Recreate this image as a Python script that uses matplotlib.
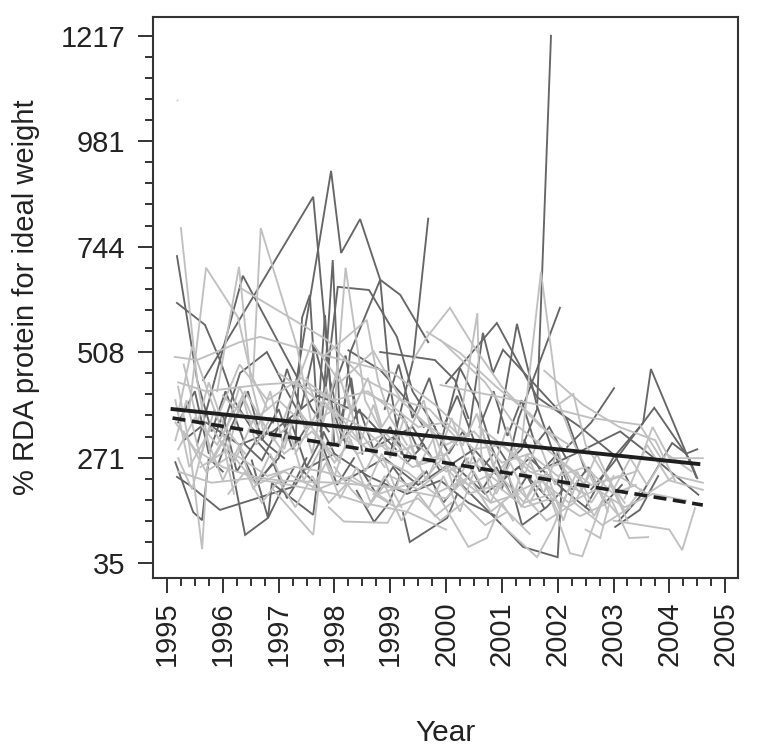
import matplotlib
matplotlib.use('Agg')
import matplotlib.pyplot as plt
from matplotlib.ticker import FixedLocator

plt.rcParams['font.family'] = ['Liberation Sans', 'DejaVu Sans']

# each series: (years, % RDA values)
dark_lines = [
    ([1995.18, 1995.54, 1995.8, 1996.05, 1996.4, 1996.7, 1997.0], [723, 445, 330, 420, 300, 265, 340]),
    ([1995.18, 1995.68, 1995.95, 1996.2, 1996.5, 1996.8, 1997.1], [618, 569, 490, 400, 340, 300, 270]),
    ([1995.54, 1996.36, 1997.33, 1997.6, 1997.9], [300, 679, 452, 380, 330]),
    ([1995.65, 1997.62, 1997.92, 1998.2], [445, 856, 445, 300]),
    ([1997.1, 1997.33, 1997.94, 1998.12, 1998.46, 1998.82, 1999.18, 1999.68], [330, 452, 914, 730, 806, 670, 636, 530]),
    ([1997.75, 1997.97, 1998.1, 1998.3, 1998.5], [300, 714, 350, 450, 280]),
    ([1997.75, 1998.06, 1998.62, 1999.12, 1999.4, 1999.8], [330, 654, 647, 542, 420, 340]),
    ([1999.0, 1999.41, 1999.68], [280, 490, 807]),
    ([2000.9, 2001.1, 2001.35, 2001.63, 2001.88], [300, 260, 290, 380, 1217]),
    ([2001.0, 2001.3, 2002.04], [200, 360, 607]),
    ([1999.9, 2000.25, 2000.57, 2000.8, 2001.0], [300, 472, 394, 300, 240]),
    ([2000.4, 2000.66, 2000.84, 2001.02, 2002.17, 2002.5], [320, 551, 461, 513, 356, 240]),
    ([2000.0, 2000.91, 2001.63, 2002.4, 2003.03, 2003.3], [438, 573, 407, 340, 275, 210]),
    ([2000.93, 2001.27, 2001.63, 2001.9, 2002.2], [327, 571, 387, 290, 210]),
    ([2002.17, 2002.6, 2003.01], [295, 350, 427]),
    ([2001.8, 2002.4, 2003.12, 2003.7, 2004.52], [250, 285, 330, 273, 188]),
    ([2002.5, 2002.99, 2003.53, 2003.67, 2004.48], [160, 270, 349, 470, 228]),
    ([2002.6, 2003.0, 2003.73, 2004.37, 2004.5], [200, 260, 383, 266, 225]),
    ([2003.1, 2003.47, 2004.05, 2004.3, 2004.5], [130, 183, 304, 280, 290]),
    ([2003.03, 2003.47, 2003.8], [116, 154, 230]),
    ([2000.2, 2000.79, 2001.38, 2002.0, 2002.08], [220, 147, 71, 48, 228]),
    ([2001.1, 2001.36, 2001.8, 2002.1], [240, 120, 160, 200]),
    ([1995.15, 1995.47, 1995.63, 1995.75, 1996.0], [261, 149, 131, 270, 240]),
    ([1995.18, 1995.4, 1995.95, 1997.24, 1997.5], [228, 210, 154, 205, 270]),
    ([1996.1, 1996.4, 1996.81, 1997.1, 1997.28], [290, 98, 136, 210, 250]),
    ([1996.52, 1996.81, 1996.88, 1997.62, 1997.8, 1998.0], [265, 136, 214, 143, 330, 280]),
    ([1998.4, 1998.71, 1998.98, 1999.2], [197, 127, 170, 240]),
    ([1999.23, 1999.35, 2000.02, 2000.2], [147, 82, 136, 190]),
    ([1997.3, 1997.42, 1997.56, 1997.7, 1997.83, 1998.0], [300, 585, 636, 350, 591, 300]),
    ([1998.1, 1998.28, 1998.82, 1999.0, 1999.2], [300, 506, 670, 430, 280]),
    ([1998.25, 1998.82, 1999.3, 1999.6], [512, 468, 400, 340]),
    ([1998.82, 1999.8, 2000.16, 2000.4], [508, 490, 445, 360]),
    ([1995.95, 1996.31, 1996.79, 1997.15, 1997.5], [320, 461, 508, 420, 340]),
    ([1995.3, 1995.7, 1996.3, 1996.9, 1997.7, 1998.5, 1999.1], [310, 350, 300, 330, 410, 370, 290]),
    ([1998.2, 1998.9, 1999.5, 2000.1, 2000.7, 2001.3, 2001.9], [220, 270, 210, 260, 190, 250, 170]),
    ([1998.8, 1999.4, 1999.9, 2000.5, 2001.0, 2001.5, 2002.1, 2002.6], [300, 340, 240, 290, 220, 270, 200, 150]),
    ([1997.4, 1998.0, 1998.6, 1999.3, 1999.9, 2000.4, 2000.9], [240, 280, 230, 190, 220, 170, 140]),
    ([1995.2, 1995.5, 1995.75, 1996.0, 1996.25, 1996.6, 1996.95], [350, 420, 280, 370, 240, 310, 260]),
    ([1995.9, 1996.15, 1996.45, 1996.7, 1997.0, 1997.25, 1997.55], [250, 340, 420, 310, 380, 290, 350]),
    ([1996.7, 1997.0, 1997.2, 1997.5, 1997.75, 1998.05, 1998.35], [230, 270, 360, 250, 310, 210, 270]),
    ([1997.9, 1998.15, 1998.45, 1998.7, 1999.0, 1999.3, 1999.6], [410, 310, 380, 290, 340, 260, 300]),
    ([1999.2, 1999.5, 1999.75, 2000.05, 2000.3, 2000.6, 2000.85], [370, 290, 350, 280, 330, 240, 280]),
    ([2000.1, 2000.35, 2000.65, 2000.9, 2001.2, 2001.45, 2001.75], [210, 270, 200, 250, 180, 230, 160]),
    ([2001.4, 2001.7, 2002.0, 2002.25, 2002.55, 2002.85, 2003.15], [310, 240, 280, 200, 250, 170, 210]),
    ([1996.3, 1996.6, 1996.9, 1997.15, 1997.45, 1997.75], [290, 210, 260, 180, 240, 200]),
    ([1998.5, 1998.75, 1999.05, 1999.35, 1999.65, 1999.95, 2000.2], [240, 190, 250, 200, 240, 170, 210]),
    ([1996.9, 1997.15, 1997.4, 1997.65, 1997.9, 1998.2, 1998.4], [350, 470, 380, 520, 400, 500, 360]),
    ([1998.9, 1999.15, 1999.4, 1999.7, 1999.95, 2000.2, 2000.5], [380, 480, 360, 450, 340, 410, 310]),
    ([2000.6, 2000.85, 2001.1, 2001.35, 2001.6, 2001.85, 2002.15], [340, 420, 320, 400, 300, 340, 270]),
]

light_lines = [
    ([1995.25, 1995.54, 1995.8, 1996.1, 1996.4], [786, 445, 260, 330, 280]),
    ([1995.4, 1995.7, 1996.27, 1996.5, 1996.8], [380, 697, 586, 460, 380]),
    ([1995.9, 1996.29, 1996.5, 1996.75], [420, 699, 445, 320]),
    ([1996.54, 1996.68, 1997.33, 1997.6], [445, 786, 520, 340]),
    ([1996.31, 1997.87, 1998.5, 1999.1, 1999.7, 2000.2], [652, 535, 450, 410, 340, 300]),
    ([1995.14, 1995.54, 1996.3, 1996.67, 1997.69, 1999.05, 1999.8, 2000.4], [497, 490, 530, 542, 505, 461, 390, 320]),
    ([1995.2, 1995.7, 1996.7, 1997.3, 1998.0, 1998.6, 1999.3], [440, 420, 435, 440, 400, 420, 350]),
    ([1997.95, 1998.2, 1998.55, 1998.8, 1999.2], [300, 697, 400, 340, 290]),
    ([1997.8, 1998.58, 1998.78, 1999.0, 1999.3], [497, 580, 445, 360, 300]),
    ([1995.2, 1995.4, 1995.63, 1995.72, 1996.0, 1996.2], [430, 300, 66, 250, 310, 190]),
    ([1996.9, 1997.62, 1997.8, 1998.0, 1998.3], [200, 98, 300, 260, 310]),
    ([1997.9, 1998.17, 1998.95, 1999.3, 1999.6], [160, 128, 125, 200, 240]),
    ([1999.41, 1999.66, 2000.07, 2000.25, 2000.5, 2001.0, 2001.7, 2002.2], [490, 542, 607, 570, 520, 430, 340, 300]),
    ([1999.66, 2000.25, 2000.9, 2001.5, 2002.1], [553, 506, 430, 370, 290]),
    ([1999.6, 2000.2, 2000.56, 2000.63, 2000.8, 2001.1], [220, 310, 595, 280, 190, 150]),
    ([1999.9, 2000.7, 2001.2, 2001.7, 2002.0, 2002.5], [535, 440, 350, 300, 270, 210]),
    ([1999.9, 2001.68, 2002.6, 2003.47, 2003.9], [434, 389, 360, 345, 260]),
    ([2001.76, 2002.45, 2003.1, 2003.75, 2004.1], [466, 390, 340, 310, 220]),
    ([2001.0, 2001.35, 2001.7, 2002.0, 2002.3, 2002.7, 2003.1], [250, 300, 688, 400, 300, 200, 140]),
    ([2001.9, 2002.28, 2002.5, 2002.8, 2003.2], [380, 414, 300, 240, 170]),
    ([1999.8, 2000.4, 2000.73, 2001.0, 2001.2], [200, 71, 91, 170, 130]),
    ([2001.0, 2001.63, 2001.9, 2002.2], [120, 48, 110, 200]),
    ([2001.9, 2002.22, 2002.44, 2002.76, 2003.0], [170, 57, 50, 160, 230]),
    ([2002.5, 2002.76, 2002.95, 2003.28, 2003.62], [110, 91, 180, 91, 93]),
    ([2003.0, 2003.5, 2004.0, 2004.23, 2004.46], [130, 120, 110, 64, 158]),
    ([2003.2, 2003.6, 2004.0, 2004.6], [180, 300, 220, 199]),
    ([2002.9, 2003.4, 2003.7, 2004.0, 2004.6], [220, 240, 340, 270, 270]),
    ([1995.15, 1995.5, 1996.0, 1996.5, 1997.0, 1998.0, 1999.0, 2000.0], [350, 290, 250, 230, 220, 215, 205, 180]),
    ([1995.2, 1995.8, 1996.5, 1997.2, 1998.0, 1998.5, 1999.3, 2000.0], [240, 215, 225, 210, 190, 170, 150, 110]),
    ([1995.15, 1995.4, 1995.8, 1996.2, 1996.6, 1997.1, 1997.6, 1998.1], [400, 250, 340, 260, 370, 280, 330, 260]),
    ([1995.2, 1995.5, 1995.9, 1996.4, 1996.9, 1997.4, 1997.9, 1998.4, 1998.9], [290, 360, 300, 420, 310, 370, 290, 340, 250]),
    ([1995.3, 1995.7, 1996.2, 1996.8, 1997.3, 1997.8, 1998.3, 1998.8, 1999.4], [330, 240, 280, 230, 250, 240, 220, 190, 215]),
    ([1996.0, 1996.5, 1997.0, 1997.5, 1998.0, 1998.5, 1999.0, 1999.5, 2000.0], [410, 350, 400, 340, 380, 300, 330, 260, 280]),
    ([1997.0, 1997.5, 1998.0, 1998.5, 1999.0, 1999.5, 2000.0, 2000.5, 2001.0], [460, 420, 370, 340, 280, 300, 240, 260, 210]),
    ([1997.3, 1997.8, 1998.3, 1998.8, 1999.3, 1999.8, 2000.3, 2000.8, 2001.3], [280, 400, 320, 270, 240, 190, 220, 170, 190]),
    ([1998.0, 1998.4, 1998.9, 1999.4, 1999.9, 2000.4, 2000.9, 2001.4, 2001.9], [350, 280, 300, 250, 270, 210, 240, 170, 190]),
    ([1998.5, 1999.0, 1999.5, 2000.0, 2000.5, 2001.0, 2001.5, 2002.0, 2002.5], [420, 390, 340, 350, 290, 300, 240, 220, 190]),
    ([1999.0, 1999.5, 2000.0, 2000.4, 2000.9, 2001.4, 2001.9, 2002.4, 2002.9], [230, 200, 250, 190, 210, 160, 180, 140, 170]),
    ([1999.5, 2000.0, 2000.5, 2001.0, 2001.5, 2002.0, 2002.5, 2003.0, 2003.4], [360, 300, 330, 260, 280, 230, 250, 190, 210]),
    ([2000.0, 2000.4, 2000.8, 2001.3, 2001.8, 2002.3, 2002.8, 2003.3], [180, 230, 150, 200, 130, 170, 120, 160]),
    ([2000.6, 2001.1, 2001.6, 2002.1, 2002.6, 2003.1, 2003.6, 2004.1, 2004.6], [340, 290, 240, 260, 210, 230, 190, 230, 215]),
    ([2001.2, 2001.7, 2002.2, 2002.7, 2003.2, 2003.7, 2004.3], [190, 220, 170, 200, 160, 190, 175]),
    ([1995.2, 1995.45, 1995.9, 1996.3, 1996.8, 1997.4, 1998.2], [370, 520, 360, 480, 400, 450, 380]),
    ([1997.1, 1997.6, 1998.1, 1998.7, 1999.2, 1999.7, 2000.3], [360, 530, 440, 510, 400, 380, 300]),
    ([1995.6, 1996.1, 1996.6, 1997.1, 1997.7, 1998.3, 1999.0], [250, 290, 210, 240, 200, 230, 170]),
    ([1998.7, 1999.1, 1999.5, 1999.9, 2000.3, 2000.7, 2001.1, 2001.5], [190, 160, 180, 130, 170, 120, 150, 100]),
    ([1995.15, 1995.35, 1995.6, 1995.85, 1996.1, 1996.35, 1996.6, 1996.85], [310, 400, 270, 380, 290, 410, 300, 360]),
    ([1995.2, 1995.45, 1995.7, 1996.0, 1996.3, 1996.55, 1996.85, 1997.1], [270, 200, 320, 220, 300, 200, 280, 210]),
    ([1996.6, 1996.85, 1997.1, 1997.35, 1997.6, 1997.85, 1998.1, 1998.35], [330, 420, 290, 390, 280, 430, 300, 400]),
    ([1996.9, 1997.2, 1997.45, 1997.75, 1998.0, 1998.25, 1998.55, 1998.8], [260, 330, 220, 290, 230, 320, 240, 300]),
    ([1998.2, 1998.45, 1998.7, 1999.0, 1999.25, 1999.5, 1999.8, 2000.05], [430, 300, 390, 270, 360, 250, 320, 240]),
    ([1998.6, 1998.85, 1999.1, 1999.35, 1999.65, 1999.9, 2000.15, 2000.4], [210, 280, 200, 300, 220, 290, 200, 270]),
    ([1999.3, 1999.6, 1999.85, 2000.1, 2000.4, 2000.65, 2000.95, 2001.2], [320, 400, 270, 360, 250, 330, 220, 290]),
    ([1999.7, 1999.95, 2000.25, 2000.5, 2000.8, 2001.05, 2001.35, 2001.6], [160, 230, 150, 240, 170, 250, 160, 220]),
    ([2000.3, 2000.55, 2000.85, 2001.1, 2001.4, 2001.65, 2001.95, 2002.2], [300, 370, 250, 340, 230, 310, 210, 270]),
    ([2000.9, 2001.2, 2001.45, 2001.75, 2002.0, 2002.3, 2002.6, 2002.9], [240, 180, 280, 190, 290, 170, 240, 150]),
    ([2001.5, 2001.8, 2002.1, 2002.35, 2002.65, 2002.95, 2003.25], [170, 240, 130, 220, 140, 210, 130]),
    ([2002.1, 2002.4, 2002.7, 2003.0, 2003.3, 2003.6, 2003.95, 2004.4], [250, 190, 280, 200, 270, 210, 280, 240]),
    ([1997.6, 1997.85, 1998.1, 1998.4, 1998.65, 1998.9, 1999.2], [200, 260, 180, 250, 170, 230, 160]),
    ([1995.3, 1995.55, 1995.75, 1996.05, 1996.3, 1996.6], [480, 350, 440, 330, 430, 340]),
    ([1996.1, 1996.4, 1996.7, 1997.0, 1997.3, 1997.6, 1997.9, 1998.2], [190, 240, 170, 220, 160, 230, 170, 210]),
    ([1998.0, 1998.3, 1998.6, 1998.9, 1999.2, 1999.5, 1999.8, 2000.1], [250, 200, 160, 210, 130, 190, 140, 170]),
    ([1997.5, 1997.8, 1998.05, 1998.3, 1998.6, 1998.85, 1999.15], [450, 350, 470, 370, 450, 340, 400]),
    ([2000.0, 2000.3, 2000.6, 2000.9, 2001.15, 2001.45, 2001.7, 2002.0], [280, 210, 270, 190, 260, 180, 230, 150]),
    ([2001.8, 2002.05, 2002.35, 2002.6, 2002.9, 2003.2, 2003.5], [210, 160, 240, 170, 230, 150, 200]),
]

solid_years = [1995.1, 2004.52]
solid_vals = [380, 257]
dashed_years = [1995.1, 2004.6]
dashed_vals = [360, 165]
speck_years = [1995.18]
speck_vals = [1073]

year_ticks = list(range(1995, 2006))
rda_ticks = [35, 271, 508, 744, 981, 1217]

W, H = 758, 751
fig = plt.figure(figsize=(W / 100, H / 100), dpi=100)
ax = fig.add_axes([153 / W, 1 - 578 / H, (738 - 153) / W, (578 - 17) / H])

ax.plot(speck_years, speck_vals, '.', ms=1, color='#cccccc')
for xs, ys in dark_lines:
    ax.plot(xs, ys, color='#666666', lw=1.35, solid_joinstyle='miter')
for xs, ys in light_lines:
    ax.plot(xs, ys, color='#c0c0c0', lw=1.35, solid_joinstyle='miter')

ax.plot(solid_years, solid_vals, color='#1e1e1e', lw=2.8)
ax.plot(dashed_years, dashed_vals, color='#1e1e1e', lw=2.6, dashes=(3.6, 1.8))

ax.set_xlim(1994.75, 2005.23)
ax.set_ylim(1.4, 1259)

ax.set_xticks(year_ticks)
ax.set_xticklabels([str(y) for y in year_ticks], rotation=90)
ax.xaxis.set_minor_locator(FixedLocator([y + q for y in year_ticks[:-1] for q in (0.25, 0.5, 0.75)]))
ax.set_yticks(rda_ticks)
ax.yaxis.set_minor_locator(FixedLocator([a + (b - a) * i / 5 for a, b in zip(rda_ticks, rda_ticks[1:]) for i in range(1, 5)]))

ax.tick_params(which='major', length=11, width=1.4, labelsize=21, color='#333333', labelcolor='#222222')
ax.tick_params(axis='y', which='major', pad=9)
ax.tick_params(axis='x', which='major', pad=6)
ax.tick_params(which='minor', length=6, width=1.4, color='#333333')
for s in ax.spines.values():
    s.set_linewidth(1.5)
    s.set_color('#333333')

ax.set_xlabel('Year', fontsize=21.5, color='#222222', labelpad=38)
ax.set_ylabel('% RDA protein for ideal weight', fontsize=21, color='#222222', labelpad=15)

fig.savefig('out.png', dpi=100)
